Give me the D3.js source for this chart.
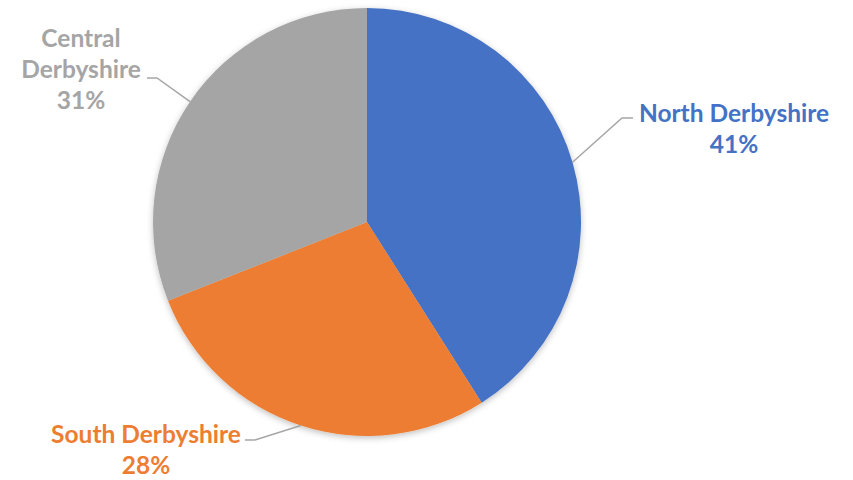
<!DOCTYPE html>
<html>
<head>
<meta charset="utf-8">
<script src="https://cdn.jsdelivr.net/npm/d3@7"></script>
<style>
  html, body { margin: 0; padding: 0; background: #fff; }
  svg text { font-family: Lato, "Open Sans", sans-serif; font-weight: 700; }
</style>
</head>
<body>
<svg id="chart" width="853" height="480"></svg>
<script>
// Share of cases by area
const regions = ["North Derbyshire", "South Derbyshire", "Central Derbyshire"];
const shares = [41, 28, 31];
const colours = ["#4472C4", "#ED7D31", "#A5A5A5"];

const svg = d3.select("#chart");
const cx = 367, cy = 222, radius = 214;

const defs = svg.append("defs");
const shadow = defs.append("filter").attr("id", "softShadow")
  .attr("x", "-10%").attr("y", "-10%").attr("width", "120%").attr("height", "120%");
shadow.append("feDropShadow")
  .attr("dx", 0).attr("dy", 2).attr("stdDeviation", 3)
  .attr("flood-color", "#000").attr("flood-opacity", 0.25);

const data = regions.map((name, i) => ({ name, value: shares[i], colour: colours[i] }));

const pie = d3.pie().value(d => d.value).sort(null);
const arcs = pie(data);
const arc = d3.arc().innerRadius(0).outerRadius(radius);

const g = svg.append("g").attr("transform", `translate(${cx},${cy})`);

g.append("g").attr("filter", "url(#softShadow)")
  .selectAll("path")
  .data(arcs)
  .join("path")
  .attr("d", arc)
  .attr("fill", d => d.data.colour);

// Label placement: elbow point of each leader line, end of its short tail, and text anchor point
const labelLayout = {
  "North Derbyshire":   { elbow: [622, 118], tail: [633, 118], text: [734, 122] },
  "South Derbyshire":   { elbow: [255, 440], tail: [245, 440], text: [146, 443] },
  "Central Derbyshire": { elbow: [157, 78],  tail: [147, 78],  text: [81, 47] }
};

const lineHeight = 31;

arcs.forEach(a => {
  const lay = labelLayout[a.data.name];
  const mid = (a.startAngle + a.endAngle) / 2;
  const start = [cx + radius * Math.sin(mid), cy - radius * Math.cos(mid)];

  svg.append("polyline")
    .attr("points", [start, lay.elbow, lay.tail].map(p => p.join(",")).join(" "))
    .attr("fill", "none")
    .attr("stroke", "#A6A6A6")
    .attr("stroke-width", 1.5);

  let lines;
  if (a.data.name === "Central Derbyshire") {
    lines = ["Central", "Derbyshire", a.data.value + "%"];
  } else {
    lines = [a.data.name, a.data.value + "%"];
  }

  const t = svg.append("text")
    .attr("text-anchor", "middle")
    .attr("fill", a.data.colour)
    .attr("font-size", 24.5);
  lines.forEach((ln, i) => {
    t.append("tspan")
      .attr("x", lay.text[0])
      .attr("y", lay.text[1] + i * lineHeight)
      .text(ln);
  });
});
</script>
</body>
</html>
